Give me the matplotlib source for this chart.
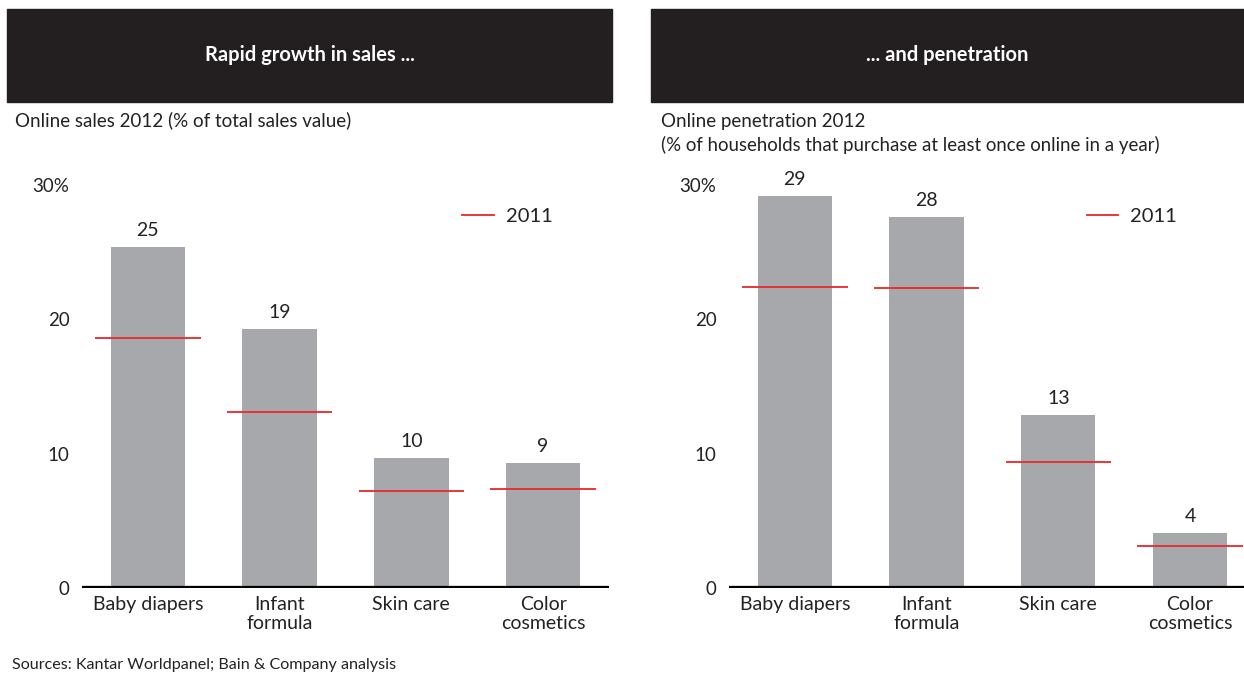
import matplotlib
matplotlib.use("Agg")
import matplotlib.pyplot as plt
from matplotlib.patches import Rectangle

plt.rcParams['font.family'] = ['Lato', 'DejaVu Sans']

categories = ['Baby diapers', 'Infant\nformula', 'Skin care', 'Color\ncosmetics']

sales_2012 = [25.4, 19.3, 9.7, 9.3]
sales_2012_labels = ['25', '19', '10', '9']
sales_2011 = [18.6, 13.1, 7.25, 7.35]

pen_2012 = [29.2, 27.6, 12.85, 4.1]
pen_2012_labels = ['29', '28', '13', '4']
pen_2011 = [22.4, 22.3, 9.37, 3.16]

yticks = [0, 10, 20, 30]
ytick_labels = ['0', '10', '20', '30%']

W, H = 1244, 674
fig = plt.figure(figsize=(W / 100, H / 100), dpi=100)

bar_color = '#a7a8ab'
red = '#e8282b'
dark = '#231f20'
txt = '#222222'


def px_axes(x0, x1, y_top, y_bottom):
    return fig.add_axes([x0 / W, 1 - y_bottom / H, (x1 - x0) / W, (y_bottom - y_top) / H])


def draw_panel(ax, vals, labels, prev, xmax, leg_x):
    x = range(len(categories))
    ax.bar(x, vals, width=0.565, color=bar_color, zorder=2)
    for i, (v, lab) in enumerate(zip(vals, labels)):
        ax.text(i, v + 0.6, lab, ha='center', va='bottom', fontsize=14, color=txt)
    for i, p in enumerate(prev):
        ax.hlines(p, i - 0.4, i + 0.4, color=red, lw=1.3, zorder=3)
    ax.axhline(0, color='black', lw=3.8, zorder=4)
    ax.set_xlim(-0.5, xmax)
    ax.set_ylim(0, 32)
    ax.set_yticks(yticks)
    ax.set_yticklabels(ytick_labels)
    ax.set_xticks(list(x))
    ax.set_xticklabels(categories, linespacing=1.12)
    ax.tick_params(axis='both', length=0, labelsize=14, colors=txt)
    ax.tick_params(axis='y', pad=9, labelsize=13.5)
    ax.tick_params(axis='x', pad=6)
    for s in ax.spines.values():
        s.set_visible(False)
    ax.plot([], [], color=red, lw=1.3, label='2011')
    ax.legend(frameon=False, fontsize=14.5, handlelength=1.55, handletextpad=0.62,
              borderpad=0, borderaxespad=0, loc='center left',
              bbox_to_anchor=(leg_x, 0.8635), labelcolor=txt)


ax1 = px_axes(82, 609, 158, 588)
draw_panel(ax1, sales_2012, sales_2012_labels, sales_2011, 3.5, 0.722)

ax2 = px_axes(729, 1244, 158, 588)
draw_panel(ax2, pen_2012, pen_2012_labels, pen_2011, 3.41, 0.6946)

# header boxes
for x0, x1, title in [(7, 612, 'Rapid growth in sales ...'), (651, 1244, '... and penetration')]:
    fig.patches.append(Rectangle((x0 / W, 1 - 102 / H), (x1 - x0) / W, 93 / H,
                                 transform=fig.transFigure, color=dark, zorder=0))
    fig.text((x0 + x1) / 2 / W, 1 - 55 / H, title, color='white', fontsize=14.5,
             fontweight='bold', ha='center', va='center')

fig.text(15 / W, 1 - 120 / H, 'Online sales 2012 (% of total sales value)',
         fontsize=13.5, ha='left', va='center', color=txt)
fig.text(661 / W, 1 - 122 / H, 'Online penetration 2012',
         fontsize=13.5, ha='left', va='center', color=txt)
fig.text(661 / W, 1 - 145 / H, '(% of households that purchase at least once online in a year)',
         fontsize=13.4, ha='left', va='center', color=txt)
fig.text(12 / W, 1 - 665 / H, 'Sources: Kantar Worldpanel; Bain & Company analysis',
         fontsize=11.6, ha='left', va='center', color=txt)

fig.savefig('out.png', dpi=100)
